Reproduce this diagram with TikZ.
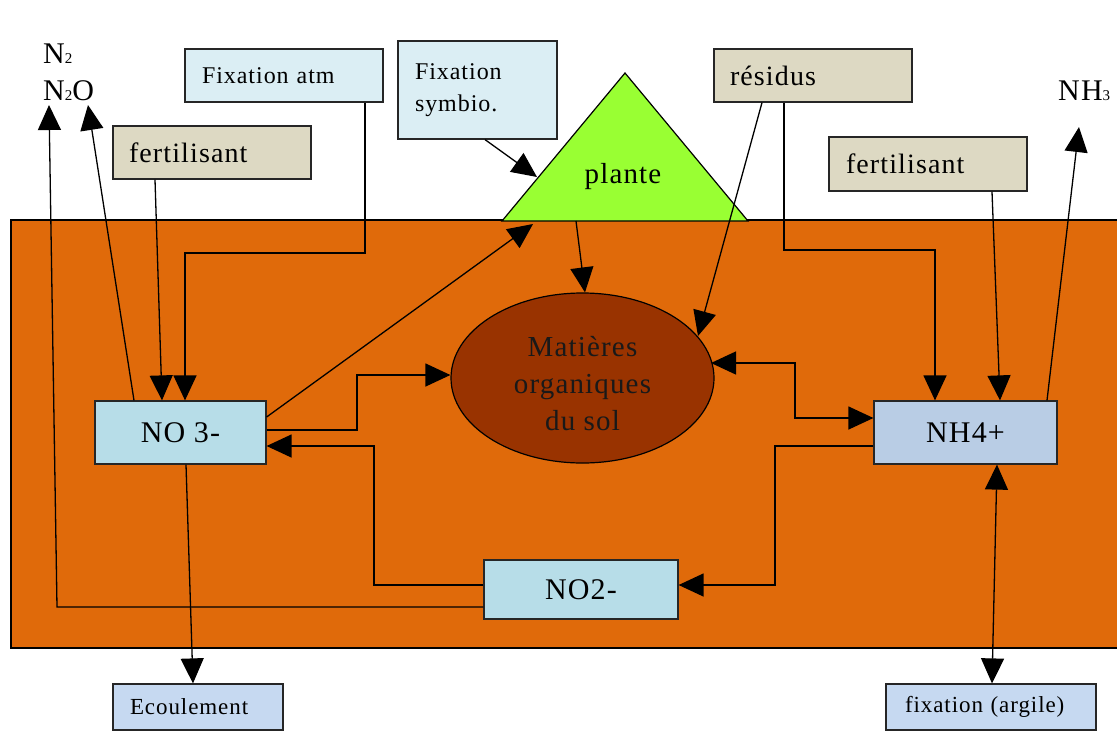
\documentclass[tikz,border=0pt]{standalone}
\usepackage{fontspec}
\setmainfont[LetterSpace=4]{Liberation Serif}
\usetikzlibrary{arrows.meta,shapes.geometric}
\definecolor{soil}{RGB}{224,106,10}
\definecolor{humus}{RGB}{153,51,0}
\definecolor{leaf}{RGB}{153,255,51}
\definecolor{paleblue}{RGB}{219,238,244}
\definecolor{sand}{RGB}{221,217,195}
\definecolor{ionblue}{RGB}{183,221,232}
\definecolor{ammblue}{RGB}{185,205,229}
\definecolor{outblue}{RGB}{198,217,241}
\newcommand{\fs}[1]{\fontsize{#1}{#1}\selectfont}
\newcommand{\lowidx}[1]{{\fontsize{15}{15}\selectfont #1}}
\begin{document}
\begin{tikzpicture}[x=1pt,y=-1pt,
  box/.style={draw=black!85, line width=1.2pt, inner sep=0pt},
  lbox/.style={box, align=left},
  cbox/.style={box, align=center, font=\fs{30}},
  arr/.style={line width=1.3pt, -{Triangle[length=25pt,width=23pt]}},
  darr/.style={line width=1.3pt, {Triangle[length=25pt,width=23pt]}-{Triangle[length=25pt,width=23pt]}},
  gas/.style={anchor=base west, inner sep=0pt, font=\fs{30}}
]
\path[use as bounding box] (0,0) rectangle (1117,748);
\clip (0,0) rectangle (1117,748);
\fill[white] (0,0) rectangle (1117,748);

% soil layer
\draw[fill=soil, line width=1.2pt] (11,220) rectangle (1140,648);

% plant
\draw[fill=leaf, line width=1.2pt] (502,221) -- (625,73) -- (748,221) -- cycle;
\node[font=\fs{29}, inner sep=0pt] (plante) at (623,177) {plante};

% organic matter
\node[ellipse, draw, line width=1.2pt, fill=humus, minimum width=263pt, minimum height=170pt, inner sep=0pt] (mos) at (582.5,378) {};
\node[align=center, font=\fontsize{29}{37}\selectfont, text=black!90] (mostext) at (582.5,384) {Matières\\organiques\\du sol};

% gases
\node[gas] (n2) at (43,63) {N\lowidx{2}};
\node[gas] (n2o) at (43,100) {N\lowidx{2}O};
\node[gas] (nh3) at (1058,100) {NH\lowidx{3}};

% input boxes
\node[lbox, fill=paleblue, minimum width=198pt, minimum height=53pt, text width=164pt, font=\fs{24}] (fatm) at (284,75.5) {Fixation atm};
\node[lbox, fill=paleblue, minimum width=159pt, minimum height=98pt, text width=125pt, font=\fontsize{24}{32}\selectfont] (fsym) at (477.5,90) {Fixation\\symbio.};
\node[lbox, fill=sand, minimum width=198pt, minimum height=53pt, text width=166pt, font=\fs{28}] (fert1) at (212,152.5) {fertilisant};
\node[lbox, fill=sand, minimum width=198pt, minimum height=53pt, text width=166pt, font=\fs{28}] (resid) at (813,75.5) {résidus};
\node[lbox, fill=sand, minimum width=198pt, minimum height=54pt, text width=164pt, font=\fs{28}] (fert2) at (928,164) {fertilisant};

% mineral forms
\node[cbox, fill=ionblue, minimum width=171pt, minimum height=63pt] (no3) at (180.5,432.5) {NO 3-};
\node[cbox, fill=ammblue, minimum width=183pt, minimum height=63pt] (nh4) at (965.5,432.5) {NH4+};
\node[cbox, fill=ionblue, minimum width=194pt, minimum height=59pt] (no2) at (581,589.5) {NO2-};

% outputs
\node[lbox, fill=outblue, minimum width=170pt, minimum height=46pt, text width=136pt, font=\fs{23}] (ecoul) at (198,707) {Ecoulement};
\node[lbox, fill=outblue, minimum width=210pt, minimum height=46pt, text width=172pt, font=\fs{23}] (fix) at (991,707) {fixation (argile)};

% routing points
\coordinate (tipN2) at (49,105);
\coordinate (tipN2O) at (88,105);
\coordinate (tipNH3) at (1079,127);
\coordinate (bendA) at (365,253);
\coordinate (bendB) at (185,253);
\coordinate (bendC) at (784,250);
\coordinate (bendD) at (935,250);
\coordinate (lowL) at (57,607);
\coordinate (plantL) at (533,224);
\coordinate (plantS) at (537,177);
\coordinate (plantB) at (576,221);
\coordinate (mosR) at (698,336);
\coordinate (mosE) at (711,363);
\coordinate (p1) at (357,430);
\coordinate (p2) at (357,375);
\coordinate (q1) at (795,363);
\coordinate (q2) at (795,418);
\coordinate (r1) at (775,446);
\coordinate (r2) at (775,585);
\coordinate (s1) at (374,585);
\coordinate (s2) at (374,446);

% connectors
\draw[arr] (fatm.south -| bendA) -- (bendA) -- (bendB) -- (no3.north -| bendB);
\draw[arr] ([xshift=-57pt]fert1.south) -- ([xshift=-18.5pt]no3.north);
\draw[arr] ([xshift=-46.5pt]no3.north) -- (tipN2O);
\draw[arr] (no2.west |- lowL) -- (lowL) -- (tipN2);
\draw[arr] ([yshift=15.5pt]no3.east) -- (plantL);
\draw[arr] ([xshift=7.5pt]fsym.south) -- (plantS);
\draw[arr] (plantB) -- ([xshift=2.5pt]mos.north);
\draw[arr] ([xshift=-51pt]resid.south) -- (mosR);
\draw[arr] (resid.south -| bendC) -- (bendC) -- (bendD) -- (nh4.north -| bendD);
\draw[arr] ([xshift=64pt]fert2.south) -- ([xshift=34.5pt]nh4.north);
\draw[arr] ([xshift=81.5pt]nh4.north) -- (tipNH3);
\draw[arr] (no3.east |- p1) -- (p1) -- (p2) -- (mos.west |- p2);
\draw[darr] (mosE) -- (q1) -- (q2) -- (nh4.west |- q2);
\draw[arr] (nh4.west |- r1) -- (r1) -- (r2) -- (no2.east |- r2);
\draw[arr] (no2.west |- s1) -- (s1) -- (s2) -- (no3.east |- s2);
\draw[arr] ([xshift=5.5pt]no3.south) -- ([xshift=-5pt]ecoul.north);
\draw[darr] ([xshift=31.5pt]nh4.south) -- ([xshift=1pt]fix.north);
\end{tikzpicture}
\end{document}
